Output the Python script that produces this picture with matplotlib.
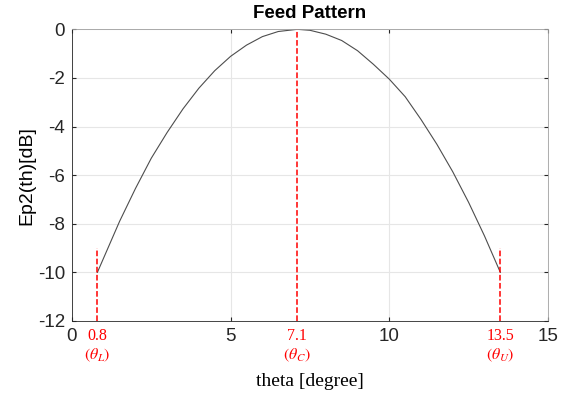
import matplotlib
matplotlib.use("Agg")
import matplotlib.pyplot as plt

# values
theta = [0.8, 1.5, 2.0, 2.5, 3.0, 3.5, 4.0, 4.5, 5.0, 5.5, 6.0, 6.5, 7.1,
         7.5, 8.0, 8.5, 9.0, 9.5, 10.0, 10.5, 11.0, 11.5, 12.0, 12.5, 13.0, 13.5]
ep2_db = [-10.0, -7.9, -6.55, -5.3, -4.24, -3.27, -2.42, -1.70, -1.11, -0.65,
          -0.30, -0.09, 0.0, -0.04, -0.20, -0.46, -0.88, -1.44, -2.05, -2.77,
          -3.71, -4.73, -5.86, -7.12, -8.5, -10.0]

marker_theta = [0.8, 7.1, 13.5]
marker_top = [-9, 0, -9]
marker_names = [r'$(\theta_L)$', r'$(\theta_C)$', r'$(\theta_U)$']

plt.rcParams['mathtext.fontset'] = 'stix'
plt.rcParams['axes.unicode_minus'] = False

fig = plt.figure(figsize=(5.7, 3.99), dpi=100)
ax = fig.add_axes([0.1263, 0.1955, 0.835, 0.731])

ax.plot(theta, ep2_db, color='#4d4d4d', linewidth=0.8)
for t, top in zip(marker_theta, marker_top):
    ax.plot([t, t], [-12, top], color='red', linestyle='--', linewidth=1.1)

ax.set_xlim(0, 15)
ax.set_ylim(-12, 0)
ax.set_xticks([0, 5, 10, 15])
ax.set_yticks(range(-12, 1, 2))
ax.grid(True, color='#e6e6e6', linewidth=0.8)
ax.set_axisbelow(True)
ax.tick_params(direction='in', labelsize=13.5, colors='#262626', length=3,
               top=True, right=True, pad=5)
for lbl in ax.get_xticklabels() + ax.get_yticklabels():
    lbl.set_fontfamily('Liberation Sans')
for s in ax.spines.values():
    s.set_color('#a0a0a0')
    s.set_linewidth(0.6)
ax.spines['left'].set_color('#262626')
ax.spines['bottom'].set_color('#262626')

ax.set_title('Feed Pattern', fontsize=13.5, fontweight='bold',
             fontfamily='Liberation Sans', pad=8)
ax.set_ylabel('Ep2(th)[dB]', fontsize=14, fontfamily='Liberation Sans',
              labelpad=2)
fig.text(0.5439, 0.045, 'theta [degree]', fontsize=14,
         fontfamily='Liberation Serif', ha='center', va='center')

for t, name in zip(marker_theta, marker_names):
    ax.text(t, -12.62, f'{t}', color='red', fontsize=11.5,
            fontfamily='Liberation Serif', ha='center', va='center')
    ax.text(t, -13.4, name, color='red', fontsize=11.5,
            ha='center', va='center')

fig.savefig('out.png', dpi=100)
